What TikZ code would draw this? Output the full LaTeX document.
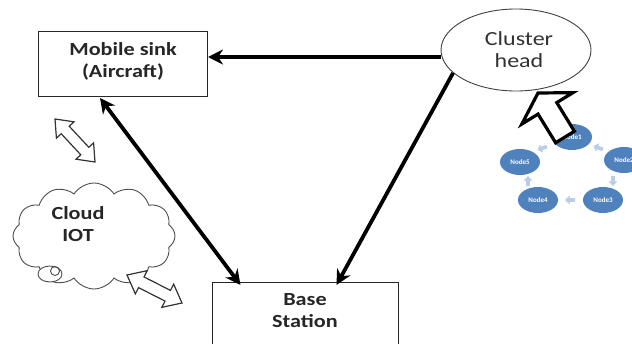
\documentclass[tikz,border=0pt]{standalone}
\usepackage{fontspec}
\setmainfont{Carlito}
\usetikzlibrary{arrows.meta,shapes.geometric,shapes.symbols,shapes.arrows,calc}
\definecolor{nodeblue}{RGB}{79,129,189}
\definecolor{paleblue}{RGB}{185,205,229}
\definecolor{labelgray}{RGB}{50,50,50}
\newcommand{\dblhollow}[5]{%
 \coordinate (ha) at ($(#1)!#3!(#2)$);
 \coordinate (hb) at ($(#2)!#3!(#1)$);
 \draw[hollow] (#1) -- ($(ha)!#5!90:(#1)$) -- ($(ha)!#4!90:(#1)$) -- ($(hb)!#4!-90:(#2)$) -- ($(hb)!#5!-90:(#2)$) -- (#2) -- ($(hb)!#5!90:(#2)$) -- ($(hb)!#4!90:(#2)$) -- ($(ha)!#4!-90:(#1)$) -- ($(ha)!#5!-90:(#1)$) -- cycle;}
\tikzset{
 box/.style={draw=black!85, line width=1pt, rectangle},
 lbl/.style={font=\fontsize{18.5}{22}\selectfont\bfseries, align=center, text=black!85, inner sep=0pt},
 thickarrow/.style={line width=3.8pt, -{Stealth[length=15pt,width=15pt]}},
 hollow/.style={draw=black!80, line width=1.2pt, fill=white, line join=miter},
 bignode/.style={ellipse, fill=nodeblue, minimum width=40pt, minimum height=26pt, inner sep=0pt, text=white, font=\fontsize{7}{8}\selectfont\bfseries},
 smallarr/.style={single arrow, fill=paleblue, minimum height=10pt, minimum width=9pt, inner sep=1.3pt, single arrow head extend=2.2pt},
}
\begin{document}
\begin{tikzpicture}[x=1pt,y=-1pt]
\useasboundingbox (0,0) rectangle (632,343);
\clip (0,0) rectangle (632,343);
% boxes
\node[box, minimum width=169pt, minimum height=65pt, anchor=north west] (ms) at (38,31) {};
\node[lbl] (mstxt) at (123,61) {\scalebox{1.2}[1]{Mobile sink}\\\scalebox{1.2}[1]{(Aircraft)}};
\node[box, minimum width=186pt, minimum height=80pt, anchor=north west] (bs) at (212,282) {};
\node[lbl] (bstxt) at (305,311) {\scalebox{1.2}[1]{Base}\\\scalebox{1.2}[1]{Station}};
% cluster head
\node[ellipse, draw=black!75, line width=0.9pt, minimum width=150pt, minimum height=82pt] (ch) at (516,50) {};
\node[lbl, font=\fontsize{20}{22}\selectfont, text=labelgray] (chtxt) at (519,50) {\scalebox{1.2}[1]{Cluster}\\\scalebox{1.2}[1]{head}};
% cloud
\node[cloud, draw=black!70, line width=0.9pt, cloud puffs=12, cloud puff arc=115, aspect=1.55, minimum width=162pt, minimum height=106pt, inner sep=0pt] (cloud) at (94,236) {};
\node[lbl] (cloudtxt) at (78,224) {\scalebox{1.2}[1]{Cloud}\\\scalebox{1.2}[1]{IOT}};
\node[ellipse, draw=black!70, line width=0.9pt, fill=white, minimum width=24pt, minimum height=16pt, inner sep=0pt] (bub1) at (50,274) {};
\node[circle, draw=black!70, line width=0.9pt, minimum size=9pt, inner sep=0pt] (bub2) at (55,271) {};
% thick connectors
\coordinate (chl) at (441,57);
\coordinate (msr) at (208,57);
\draw[thickarrow] (chl) -- (msr);
\draw[line width=3.8pt, {Stealth[length=15pt,width=15pt]}-{Stealth[length=15pt,width=15pt]}] ([xshift=-23pt,yshift=-1pt]ms.south) -- ([xshift=-65pt,yshift=-3pt]bs.north);
\draw[thickarrow] (ch.200) -- ([xshift=31pt,yshift=-3pt]bs.north);
% hollow double arrows
\coordinate (d1a) at (55,119);
\coordinate (d1b) at (95,162);
\dblhollow{d1a}{d1b}{15pt}{5.5pt}{12pt}
\coordinate (d2a) at (127,275);
\coordinate (d2b) at (182,303);
\dblhollow{d2a}{d2b}{16pt}{6pt}{13pt}
% node ring
\node[bignode] (n1) at (572,137) {Node1};
\node[bignode] (n2) at (624,160) {Node2};
\node[bignode] (n3) at (603,200) {Node3};
\node[bignode] (n4) at (538,200) {Node4};
\node[bignode] (n5) at (520,162) {Node5};
\node[smallarr, rotate=200] (a15) at (543,148) {};
\node[smallarr, rotate=160] (a21) at (599,148) {};
\node[smallarr, rotate=-90] (a23) at (613,180) {};
\node[smallarr, rotate=180] (a34) at (571,200) {};
\node[smallarr, rotate=90] (a45) at (528,182) {};
% big hollow arrow to cluster head
\coordinate (bt) at (565,137);
\coordinate (bp) at (538,93);
\coordinate (bh) at ($(bp)!18pt!(bt)$);
\draw[draw=black, line width=3.2pt, fill=white, line join=miter] (bp) -- ($(bh)!30pt!90:(bp)$) -- ($(bh)!11pt!90:(bp)$) -- ($(bt)!11pt!90:(bp)$) -- ($(bt)!11pt!-90:(bp)$) -- ($(bh)!11pt!-90:(bp)$) -- ($(bh)!30pt!-90:(bp)$) -- cycle;
\end{tikzpicture}
\end{document}
